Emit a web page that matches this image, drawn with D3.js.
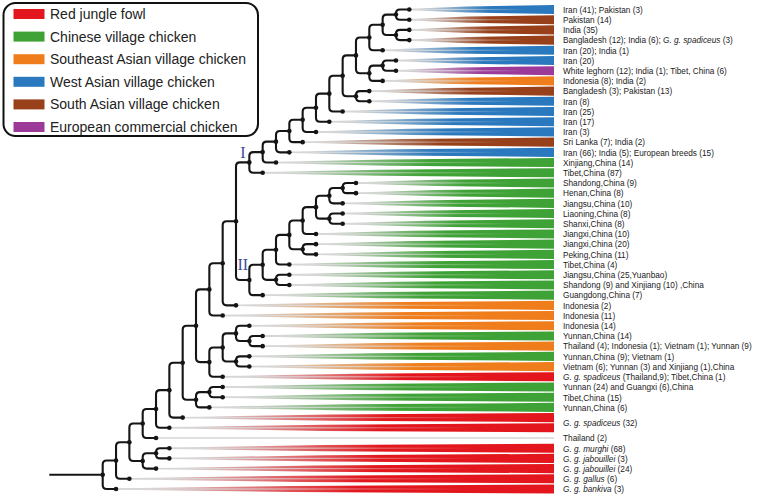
<!DOCTYPE html>
<html><head><meta charset="utf-8">
<script src="https://cdn.jsdelivr.net/npm/d3@7"></script>
<style>body{margin:0;background:#fff}svg{display:block}</style>
</head><body>
<svg id="chart" width="779" height="496"></svg>
<script>
// ---------- data ----------
const legendNames = ["Red jungle fowl","Chinese village chicken","Southeast Asian village chicken","West Asian village chicken","South Asian village chicken","European commercial chicken"];
const legendKeys  = ["R","C","SE","W","S","E"];
const groupColors = ["#e2161c","#3fa236","#ef7d1b","#2a78bd","#97401a","#9b3a98"];

const leafLabels = [
  "Iran (41); Pakistan (3)",
  "Pakistan (14)",
  "India (35)",
  "Bangladesh (12); India (6); *G. g. spadiceus* (3)",
  "Iran (20); India (1)",
  "Iran (20)",
  "White leghorn (12); India (1); Tibet, China (6)",
  "Indonesia (8); India (2)",
  "Bangladesh (3); Pakistan (13)",
  "Iran (8)",
  "Iran (25)",
  "Iran (17)",
  "Iran (3)",
  "Sri Lanka (7); India (2)",
  "Iran (66); India (5); European breeds (15)",
  "Xinjiang,China (14)",
  "Tibet,China (87)",
  "Shandong,China (9)",
  "Henan,China (8)",
  "Jiangsu,China (10)",
  "Liaoning,China (8)",
  "Shanxi,China (8)",
  "Jiangxi,China (10)",
  "Jiangxi,China (20)",
  "Peking,China (11)",
  "Tibet,China (4)",
  "Jiangsu,China (25,Yuanbao)",
  "Shandong (9) and Xinjiang (10) ,China",
  "Guangdong,China (7)",
  "Indonesia (2)",
  "Indonesia (11)",
  "Indonesia (14)",
  "Yunnan,China (14)",
  "Thailand (4); Indonesia (1); Vietnam (1); Yunnan (9)",
  "Yunnan,China (9); Vietnam (1)",
  "Vietnam (6); Yunnan (3) and Xinjiang (1),China",
  "*G. g. spadiceus* (Thailand,9); Tibet,China (1)",
  "Yunnan (24) and Guangxi (6),China",
  "Tibet,China (15)",
  "Yunnan,China (6)",
  "*G. g. spadiceus* (32)",
  "",
  "Thailand (2)",
  "*G. g. murghi* (68)",
  "*G. g. jabouillei* (3)",
  "*G. g. jabouillei* (24)",
  "*G. g. gallus* (6)",
  "*G. g. bankiva* (3)"
];
const leafGroups = ["W","S","S","S","W","W","E","SE","S","W","W","W","W","S","W",
  "C","C","C","C","C","C","C","C","C","C","C","C","C","C",
  "SE","SE","SE","C","SE","C","SE","R","C","C","C","R","R","","R","R","R","R","R"];

// tree topology (leaf numbers = row order, 1-based)
const cladeI  = "((((((((((((1,2),(3,4)),5),((6,7),8)),(9,10)),11),12),13),14),15),16),17)";
const cladeII = "((((((((18,19),20),(21,22)),23),(24,25)),26),(27,28)),29)";
const lowerSE = "(((32,(33,34)),(35,36)),37)";
const treeNewick = "(((((((((((" + cladeI + "," + cladeII + "),30),31)," + lowerSE + "),((38,39),40)),41),42),43),((44,45),46)),47),48)";
const cladeNames = ["I", "II"];

// ---------- layout ----------
const svg = d3.select("#chart");
function parseNewick(s){
  let i=0;
  function node(){
    if(s[i]==="("){ i++; const ch=[node()]; while(s[i]===","){ i++; ch.push(node()); } i++; return {children:ch}; }
    let t=""; while(i<s.length && /[0-9]/.test(s[i])) t+=s[i++];
    return {leaf:+t};
  }
  return node();
}
const root = d3.hierarchy(parseNewick(treeNewick));
const x = d3.scaleLinear().domain([0, 23]).range([102.7, 409.3]);
const y = d3.scaleLinear().domain([0, leafLabels.length-1]).range([9.5, 489]);
const wedgeEnd = 554, labelX = 563, stemStart = 49.3;

root.eachAfter(n=>{
  n.px = x(n.depth);
  n.py = n.children ? d3.mean(n.children, c=>c.py) : y(n.data.leaf-1);
});

const colorOf = k => { const i = legendKeys.indexOf(k); return i<0 ? null : groupColors[i]; };

// gradients
const defs = svg.append("defs");
legendKeys.forEach((k,i)=>{
  const g = defs.append("linearGradient").attr("id","grad-"+k).attr("x1",0).attr("x2",1).attr("y1",0).attr("y2",0);
  g.append("stop").attr("offset",0).attr("stop-color","#d9d9d9");
  g.append("stop").attr("offset",0.06).attr("stop-color","#d9d9d9");
  g.append("stop").attr("offset",0.55).attr("stop-color",groupColors[i]);
  g.append("stop").attr("offset",1).attr("stop-color",groupColors[i]);
});
const cg = defs.append("linearGradient").attr("id","grad-center").attr("x1",0).attr("x2",1).attr("y1",0).attr("y2",0);
cg.append("stop").attr("offset",0).attr("stop-color","#d4d4d4").attr("stop-opacity",1);
cg.append("stop").attr("offset",0.35).attr("stop-color","#e2e2e2").attr("stop-opacity",0.7);
cg.append("stop").attr("offset",0.8).attr("stop-color","#eeeeee").attr("stop-opacity",0);

// wedges
const step = y(1)-y(0);
const leaves = root.leaves();
const gW = svg.append("g");
leaves.forEach(l=>{
  const k = leafGroups[l.data.leaf-1];
  if(colorOf(k)){
    const h0 = 0.7, h1 = (step-1.1)/2, xm = l.px + 0.4*(wedgeEnd-l.px);
    gW.append("path")
      .attr("d",`M${l.px},${l.py-h0}L${xm},${l.py-0.68*h1}L${wedgeEnd},${l.py-h1}L${wedgeEnd},${l.py+h1}L${xm},${l.py+0.68*h1}L${l.px},${l.py+h0}Z`)
      .attr("fill",`url(#grad-${k})`);
    gW.append("rect").attr("x",l.px).attr("y",l.py-0.6).attr("width",wedgeEnd-l.px).attr("height",1.2)
      .attr("fill","url(#grad-center)");
  } else {
    gW.append("line").attr("x1",l.px).attr("x2",wedgeEnd).attr("y1",l.py).attr("y2",l.py)
      .attr("stroke","#d4d4d4").attr("stroke-width",1.4);
  }
});

// branches
const gT = svg.append("g").attr("fill","none").attr("stroke","#151515").attr("stroke-width",2.1);
function elbow(p,c){
  const dy = c.py-p.py, r = Math.min(4, Math.abs(dy)), s = dy>0?1:-1;
  return `M${p.px},${p.py}V${c.py-s*r}Q${p.px},${c.py} ${p.px+r},${c.py}H${c.px}`;
}
root.descendants().forEach(n=>{ if(n.parent) gT.append("path").attr("d",elbow(n.parent,n)); });
gT.append("path").attr("d",`M${stemStart},${root.py}H${root.px}`);

// node dots
svg.append("g").selectAll("circle").data(root.descendants()).join("circle")
  .attr("cx",d=>d.px).attr("cy",d=>d.py).attr("r",2.3).attr("fill","#151515");

// clade labels: the two children of the node joining clade I and clade II
const leaf1 = leaves.find(l=>l.data.leaf===1);
const joinNode = leaf1.ancestors().find(a=>a.depth===10);
joinNode.children.forEach((c,i)=>{
  svg.append("text").attr("x",c.px-6.5).attr("y",c.children[0].py).attr("dy","0.35em")
    .attr("text-anchor","middle").attr("font-family","Liberation Serif, Times New Roman, serif")
    .attr("font-size",16).attr("fill","#3f4a9c").text(cladeNames[i]);
});

// leaf labels
const gL = svg.append("g").attr("transform",`translate(${labelX},0) scale(0.87,1)`)
  .attr("font-family","Liberation Sans, Arial, sans-serif").attr("font-size",9.5).attr("fill","#222");
leaves.forEach(l=>{
  const idx = l.data.leaf-1, txt = leafLabels[idx];
  if(!txt) return;
  let ly = l.py;
  if(idx+1<leafLabels.length && leafLabels[idx+1]==="") ly = (l.py + y(idx+1))/2;
  const t = gL.append("text").attr("x",0).attr("y",ly).attr("dy","0.35em");
  txt.split("*").forEach((seg,j)=>{ if(seg) t.append("tspan").attr("font-style", j%2 ? "italic":"normal").text(seg); });
});

// legend
const lg = svg.append("g");
lg.append("rect").attr("x",3.5).attr("y",3).attr("width",254.5).attr("height",133).attr("rx",12)
  .attr("fill","#fff").attr("stroke","#111").attr("stroke-width",2);
legendNames.forEach((name,i)=>{
  const ry = 14 + i*22.6;
  lg.append("rect").attr("x",13.5).attr("y",ry-5).attr("width",31).attr("height",10).attr("fill",groupColors[i]);
  lg.append("text").attr("x",50).attr("y",ry).attr("dy","0.35em")
    .attr("font-family","Liberation Sans, Arial, sans-serif").attr("font-size",14).attr("fill","#222").text(name);
});
</script>
</body></html>
